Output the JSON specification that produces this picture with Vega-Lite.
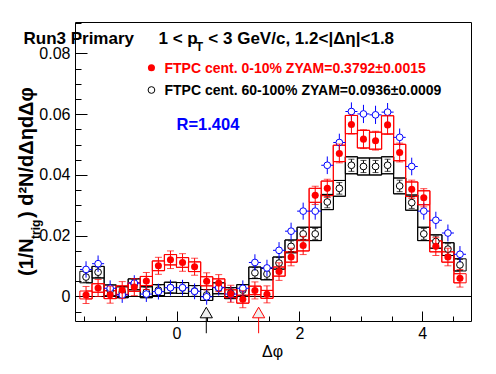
{
"$schema": "https://vega.github.io/schema/vega-lite/v6.json",
"width": 396, "height": 299,
"autosize": {"type": "none"},
"padding": {"left": 75, "top": 22, "right": 25, "bottom": 53},
"background": "white",
"config": {
  "view": {"stroke": "black", "strokeWidth": 1},
  "axis": {"domain": false, "grid": false, "labelFont": "Liberation Sans", "labelFontSize": 16, "labelColor": "black", "tickColor": "black", "tickWidth": 1, "titleFont": "Liberation Sans", "titleColor": "black"},
  "text": {"font": "Liberation Sans"}
},
"datasets": {"bins": [
{"p":-1.4726,"r":0.0005,"re":0.0028,"rl":-0.0008,"rh":0.0018,"k":0.0064,"ke":0.0017,"kl":0.0045,"kh":0.0083,"b":0.0089,"be":0.0027,"hw":0.0982},
{"p":-1.2763,"r":0.0028,"re":0.0028,"rl":0.0014,"rh":0.0042,"k":0.0080,"ke":0.0017,"kl":0.0061,"kh":0.0099,"b":0.0108,"be":0.0027,"hw":0.0982},
{"p":-1.0799,"r":0.0006,"re":0.0028,"rl":-0.0007,"rh":0.0019,"k":0.0020,"ke":0.0017,"kl":0.0002,"kh":0.0038,"b":0.0027,"be":0.0026,"hw":0.0982},
{"p":-0.8836,"r":0.0021,"re":0.0028,"rl":0.0007,"rh":0.0035,"k":0.0014,"ke":0.0017,"kl":-0.0004,"kh":0.0032,"b":0.0005,"be":0.0026,"hw":0.0982},
{"p":-0.6872,"r":0.0031,"re":0.0028,"rl":0.0017,"rh":0.0045,"k":0.0040,"ke":0.0017,"kl":0.0022,"kh":0.0058,"b":0.0044,"be":0.0026,"hw":0.0982},
{"p":-0.4909,"r":0.0051,"re":0.0028,"rl":0.0036,"rh":0.0066,"k":0.0014,"ke":0.0017,"kl":-0.0004,"kh":0.0032,"b":0.0008,"be":0.0026,"hw":0.0982},
{"p":-0.2945,"r":0.0101,"re":0.0028,"rl":0.0085,"rh":0.0117,"k":0.0021,"ke":0.0017,"kl":0.0003,"kh":0.0039,"b":0.0016,"be":0.0026,"hw":0.0982},
{"p":-0.0982,"r":0.0121,"re":0.0029,"rl":0.0104,"rh":0.0138,"k":0.0029,"ke":0.0017,"kl":0.0011,"kh":0.0047,"b":0.0029,"be":0.0026,"hw":0.0982},
{"p":0.0982,"r":0.0112,"re":0.0029,"rl":0.0096,"rh":0.0128,"k":0.0028,"ke":0.0017,"kl":0.0010,"kh":0.0046,"b":0.0029,"be":0.0026,"hw":0.0982},
{"p":0.2945,"r":0.0098,"re":0.0028,"rl":0.0082,"rh":0.0114,"k":0.0018,"ke":0.0017,"kl":0.0000,"kh":0.0036,"b":0.0017,"be":0.0026,"hw":0.0982},
{"p":0.4909,"r":0.0050,"re":0.0028,"rl":0.0035,"rh":0.0065,"k":0.0005,"ke":0.0017,"kl":-0.0013,"kh":0.0023,"b":-0.0001,"be":0.0026,"hw":0.0982},
{"p":0.6872,"r":0.0044,"re":0.0028,"rl":0.0030,"rh":0.0058,"k":0.0027,"ke":0.0017,"kl":0.0009,"kh":0.0045,"b":0.0029,"be":0.0026,"hw":0.0982},
{"p":0.8836,"r":0.0009,"re":0.0028,"rl":-0.0004,"rh":0.0022,"k":0.0011,"ke":0.0017,"kl":-0.0007,"kh":0.0029,"b":0.0008,"be":0.0026,"hw":0.0982},
{"p":1.0799,"r":-0.0009,"re":0.0028,"rl":-0.0022,"rh":0.0004,"k":0.0021,"ke":0.0017,"kl":0.0003,"kh":0.0039,"b":0.0027,"be":0.0026,"hw":0.0982},
{"p":1.2763,"r":0.0020,"re":0.0028,"rl":0.0006,"rh":0.0034,"k":0.0078,"ke":0.0017,"kl":0.0059,"kh":0.0097,"b":0.0112,"be":0.0027,"hw":0.0982},
{"p":1.4726,"r":0.0007,"re":0.0028,"rl":-0.0006,"rh":0.0020,"k":0.0074,"ke":0.0017,"kl":0.0055,"kh":0.0093,"b":0.0094,"be":0.0027,"hw":0.0982},
{"p":1.6690,"r":0.0082,"re":0.0029,"rl":0.0067,"rh":0.0097,"k":0.0110,"ke":0.0018,"kl":0.0090,"kh":0.0130,"b":0.0152,"be":0.0027,"hw":0.0982},
{"p":1.8653,"r":0.0130,"re":0.0029,"rl":0.0113,"rh":0.0147,"k":0.0165,"ke":0.0018,"kl":0.0144,"kh":0.0186,"b":0.0215,"be":0.0028,"hw":0.0982},
{"p":2.0617,"r":0.0168,"re":0.0030,"rl":0.0150,"rh":0.0186,"k":0.0206,"ke":0.0018,"kl":0.0184,"kh":0.0228,"b":0.0281,"be":0.0028,"hw":0.0982},
{"p":2.2580,"r":0.0333,"re":0.0030,"rl":0.0310,"rh":0.0356,"k":0.0206,"ke":0.0018,"kl":0.0184,"kh":0.0228,"b":0.0281,"be":0.0028,"hw":0.0982},
{"p":2.4544,"r":0.0356,"re":0.0030,"rl":0.0332,"rh":0.0380,"k":0.0311,"ke":0.0019,"kl":0.0286,"kh":0.0336,"b":0.0432,"be":0.0029,"hw":0.0982},
{"p":2.6507,"r":0.0471,"re":0.0031,"rl":0.0444,"rh":0.0498,"k":0.0356,"ke":0.0019,"kl":0.0330,"kh":0.0382,"b":0.0507,"be":0.0029,"hw":0.0982},
{"p":2.8471,"r":0.0566,"re":0.0031,"rl":0.0536,"rh":0.0596,"k":0.0432,"ke":0.0020,"kl":0.0404,"kh":0.0460,"b":0.0609,"be":0.0030,"hw":0.0982},
{"p":3.0434,"r":0.0518,"re":0.0031,"rl":0.0489,"rh":0.0547,"k":0.0428,"ke":0.0020,"kl":0.0400,"kh":0.0456,"b":0.0601,"be":0.0030,"hw":0.0982},
{"p":3.2398,"r":0.0513,"re":0.0031,"rl":0.0485,"rh":0.0541,"k":0.0428,"ke":0.0020,"kl":0.0400,"kh":0.0456,"b":0.0598,"be":0.0030,"hw":0.0982},
{"p":3.4361,"r":0.0565,"re":0.0031,"rl":0.0535,"rh":0.0595,"k":0.0432,"ke":0.0020,"kl":0.0404,"kh":0.0460,"b":0.0607,"be":0.0030,"hw":0.0982},
{"p":3.6325,"r":0.0474,"re":0.0031,"rl":0.0447,"rh":0.0501,"k":0.0364,"ke":0.0019,"kl":0.0338,"kh":0.0390,"b":0.0524,"be":0.0029,"hw":0.0982},
{"p":3.8288,"r":0.0353,"re":0.0030,"rl":0.0329,"rh":0.0377,"k":0.0309,"ke":0.0019,"kl":0.0284,"kh":0.0334,"b":0.0428,"be":0.0029,"hw":0.0982},
{"p":4.0252,"r":0.0325,"re":0.0030,"rl":0.0302,"rh":0.0348,"k":0.0206,"ke":0.0018,"kl":0.0184,"kh":0.0228,"b":0.0281,"be":0.0028,"hw":0.0982},
{"p":4.2215,"r":0.0165,"re":0.0030,"rl":0.0147,"rh":0.0183,"k":0.0181,"ke":0.0018,"kl":0.0159,"kh":0.0203,"b":0.0251,"be":0.0028,"hw":0.0982},
{"p":4.4179,"r":0.0130,"re":0.0029,"rl":0.0113,"rh":0.0147,"k":0.0156,"ke":0.0018,"kl":0.0135,"kh":0.0177,"b":0.0209,"be":0.0028,"hw":0.0982},
{"p":4.6142,"r":0.0060,"re":0.0029,"rl":0.0045,"rh":0.0075,"k":0.0104,"ke":0.0018,"kl":0.0084,"kh":0.0124,"b":0.0139,"be":0.0027,"hw":0.0982}
]},
"resolve": {"axis": {"x": "independent", "y": "independent"}},
"layer": [
 {"data": {"values": [{}]}, "mark": {"type": "rule", "color": "black", "strokeWidth": 1},
  "encoding": {"y": {"datum": 0, "type": "quantitative", "scale": {"domain": [-0.00807, 0.09037], "nice": false, "zero": false}, "axis": null}}},
 {"data": {"name": "bins"}, "mark": {"type": "bar", "width": 12.375, "fillOpacity": 0, "stroke": "black", "strokeWidth": 1},
  "encoding": {
   "x": {"field": "p", "type": "quantitative", "scale": {"domain": [-1.5708, 4.7124], "nice": false, "zero": false},
         "axis": {"orient": "bottom", "values": [0, 2, 4], "format": "d", "tickSize": -10, "labelPadding": 14.5, "title": "Δφ", "titleFontSize": 16, "titleFontWeight": "normal", "titleX": 197, "titleY": 35.5, "titleAlign": "center", "titleBaseline": "alphabetic"}},
   "y": {"field": "kl", "type": "quantitative", "scale": {"domain": [-0.00807, 0.09037], "nice": false, "zero": false},
         "axis": {"orient": "left", "values": [0, 0.02, 0.04, 0.06, 0.08], "format": "~g", "tickSize": -12, "labelPadding": 17, "title": null}},
   "y2": {"field": "kh"}}},
 {"data": {"name": "bins"}, "mark": {"type": "line", "interpolate": "step", "color": "black", "strokeWidth": 1},
  "encoding": {
   "x": {"field": "p", "type": "quantitative", "scale": {"domain": [-1.5708, 4.7124], "nice": false, "zero": false},
         "axis": {"orient": "bottom", "values": [-1.5, -1, -0.5, 0.5, 1, 1.5, 2.5, 3, 3.5, 4.5], "tickSize": -5, "labels": false, "title": null}},
   "y": {"field": "kh", "type": "quantitative", "scale": {"domain": [-0.00807, 0.09037], "nice": false, "zero": false},
         "axis": {"orient": "left", "values": [-0.005, 0.005, 0.01, 0.015, 0.025, 0.03, 0.035, 0.045, 0.05, 0.055, 0.065, 0.07, 0.075, 0.085, 0.09], "tickSize": -6, "labels": false, "title": null}}}},
 {"data": {"name": "bins"}, "mark": {"type": "line", "interpolate": "step", "color": "black", "strokeWidth": 1},
  "encoding": {"x": {"field": "p", "type": "quantitative", "scale": {"domain": [-1.5708, 4.7124], "nice": false, "zero": false}, "axis": null},
   "y": {"field": "kl", "type": "quantitative", "scale": {"domain": [-0.00807, 0.09037], "nice": false, "zero": false}, "axis": null}}},
 {"data": {"name": "bins"}, "mark": {"type": "bar", "width": 12.375, "fillOpacity": 0, "stroke": "#ff0000", "strokeWidth": 1},
  "encoding": {"x": {"field": "p", "type": "quantitative", "scale": {"domain": [-1.5708, 4.7124], "nice": false, "zero": false}, "axis": null},
   "y": {"field": "rl", "type": "quantitative", "scale": {"domain": [-0.00807, 0.09037], "nice": false, "zero": false}, "axis": null},
   "y2": {"field": "rh"}}},
 {"data": {"name": "bins"}, "mark": {"type": "line", "interpolate": "step", "color": "#ff0000", "strokeWidth": 1},
  "encoding": {"x": {"field": "p", "type": "quantitative", "scale": {"domain": [-1.5708, 4.7124], "nice": false, "zero": false}, "axis": null},
   "y": {"field": "rh", "type": "quantitative", "scale": {"domain": [-0.00807, 0.09037], "nice": false, "zero": false}, "axis": null}}},
 {"data": {"name": "bins"}, "mark": {"type": "line", "interpolate": "step", "color": "#ff0000", "strokeWidth": 1},
  "encoding": {"x": {"field": "p", "type": "quantitative", "scale": {"domain": [-1.5708, 4.7124], "nice": false, "zero": false}, "axis": null},
   "y": {"field": "rl", "type": "quantitative", "scale": {"domain": [-0.00807, 0.09037], "nice": false, "zero": false}, "axis": null}}},
 {"data": {"name": "bins"}, "mark": {"type": "errorbar", "color": "black", "ticks": {"size": 6}},
  "encoding": {"x": {"field": "p", "type": "quantitative", "scale": {"domain": [-1.5708, 4.7124], "nice": false, "zero": false}, "axis": null},
   "y": {"field": "k", "type": "quantitative", "scale": {"domain": [-0.00807, 0.09037], "nice": false, "zero": false}, "axis": null},
   "yError": {"field": "ke"}}},
 {"data": {"name": "bins"}, "mark": {"type": "point", "shape": "circle", "size": 45, "filled": true, "fill": "white", "stroke": "black", "strokeWidth": 1, "opacity": 1},
  "encoding": {"x": {"field": "p", "type": "quantitative", "scale": {"domain": [-1.5708, 4.7124], "nice": false, "zero": false}, "axis": null},
   "y": {"field": "k", "type": "quantitative", "scale": {"domain": [-0.00807, 0.09037], "nice": false, "zero": false}, "axis": null}}},
 {"data": {"name": "bins"}, "mark": {"type": "errorbar", "color": "#0000ff"},
  "encoding": {"x": {"field": "p", "type": "quantitative", "scale": {"domain": [-1.5708, 4.7124], "nice": false, "zero": false}, "axis": null},
   "y": {"field": "b", "type": "quantitative", "scale": {"domain": [-0.00807, 0.09037], "nice": false, "zero": false}, "axis": null},
   "yError": {"field": "be"}}},
 {"data": {"name": "bins"}, "mark": {"type": "errorbar", "color": "#0000ff"},
  "encoding": {"x": {"field": "p", "type": "quantitative", "scale": {"domain": [-1.5708, 4.7124], "nice": false, "zero": false}, "axis": null},
   "xError": {"field": "hw"},
   "y": {"field": "b", "type": "quantitative", "scale": {"domain": [-0.00807, 0.09037], "nice": false, "zero": false}, "axis": null}}},
 {"data": {"name": "bins"}, "mark": {"type": "point", "shape": "circle", "size": 45, "filled": true, "fill": "white", "stroke": "#0000ff", "strokeWidth": 1, "opacity": 1},
  "encoding": {"x": {"field": "p", "type": "quantitative", "scale": {"domain": [-1.5708, 4.7124], "nice": false, "zero": false}, "axis": null},
   "y": {"field": "b", "type": "quantitative", "scale": {"domain": [-0.00807, 0.09037], "nice": false, "zero": false}, "axis": null}}},
 {"data": {"name": "bins"}, "mark": {"type": "errorbar", "color": "#ff0000", "ticks": {"size": 7}},
  "encoding": {"x": {"field": "p", "type": "quantitative", "scale": {"domain": [-1.5708, 4.7124], "nice": false, "zero": false}, "axis": null},
   "y": {"field": "r", "type": "quantitative", "scale": {"domain": [-0.00807, 0.09037], "nice": false, "zero": false}, "axis": null},
   "yError": {"field": "re"}}},
 {"data": {"name": "bins"}, "mark": {"type": "point", "shape": "circle", "size": 50, "filled": true, "color": "#ff0000", "opacity": 1},
  "encoding": {"x": {"field": "p", "type": "quantitative", "scale": {"domain": [-1.5708, 4.7124], "nice": false, "zero": false}, "axis": null},
   "y": {"field": "r", "type": "quantitative", "scale": {"domain": [-0.00807, 0.09037], "nice": false, "zero": false}, "axis": null}}},
 {"data": {"values": [{"phi": 0.485}]}, "mark": {"type": "rule", "color": "black", "strokeWidth": 1},
  "encoding": {"x": {"field": "phi", "type": "quantitative", "axis": null},
   "y": {"datum": -0.0121, "type": "quantitative", "axis": null}, "y2": {"datum": -0.0053}}},
 {"data": {"values": [{"phi": 0.485}]}, "mark": {"type": "point", "shape": "triangle-up", "size": 150, "filled": true, "fill": "#eeeeee", "stroke": "black", "strokeWidth": 1, "opacity": 1},
  "encoding": {"x": {"field": "phi", "type": "quantitative", "axis": null},
   "y": {"datum": -0.00527, "type": "quantitative", "axis": null}}},
 {"data": {"values": [{"phi": 1.337}]}, "mark": {"type": "rule", "color": "#ff0000", "strokeWidth": 1},
  "encoding": {"x": {"field": "phi", "type": "quantitative", "axis": null},
   "y": {"datum": -0.0121, "type": "quantitative", "axis": null}, "y2": {"datum": -0.0053}}},
 {"data": {"values": [{"phi": 1.337}]}, "mark": {"type": "point", "shape": "triangle-up", "size": 150, "filled": true, "fill": "#eeeeee", "stroke": "#ff0000", "strokeWidth": 1, "opacity": 1},
  "encoding": {"x": {"field": "phi", "type": "quantitative", "axis": null},
   "y": {"datum": -0.00527, "type": "quantitative", "axis": null}}},
 {"data": {"values": [{}]}, "mark": {"type": "point", "shape": "circle", "size": 50, "filled": true, "color": "#ff0000", "opacity": 1},
  "encoding": {"x": {"datum": -0.4079, "type": "quantitative", "axis": null}, "y": {"datum": 0.07533, "type": "quantitative", "axis": null}}},
 {"data": {"values": [{}]}, "mark": {"type": "point", "shape": "circle", "size": 45, "filled": true, "fill": "white", "stroke": "black", "strokeWidth": 1, "opacity": 1},
  "encoding": {"x": {"datum": -0.4079, "type": "quantitative", "axis": null}, "y": {"datum": 0.06798, "type": "quantitative", "axis": null}}},
 {"data": {"values": [{}]}, "mark": {"type": "text", "text": "FTPC cent. 0-10% ZYAM=0.3792±0.0015", "font": "Liberation Sans", "fontWeight": "bold", "fontSize": 14, "align": "left", "baseline": "alphabetic", "color": "#ff0000"},
  "encoding": {"x": {"datum": -0.1953, "type": "quantitative", "axis": null}, "y": {"datum": 0.07342, "type": "quantitative", "axis": null}}},
 {"data": {"values": [{}]}, "mark": {"type": "text", "text": "FTPC cent. 60-100% ZYAM=0.0936±0.0009", "font": "Liberation Sans", "fontWeight": "bold", "fontSize": 14, "align": "left", "baseline": "alphabetic", "color": "black"},
  "encoding": {"x": {"datum": -0.1953, "type": "quantitative", "axis": null}, "y": {"datum": 0.06634, "type": "quantitative", "axis": null}}},
 {"data": {"values": [{}]}, "mark": {"type": "text", "text": "R=1.404", "font": "Liberation Sans", "fontWeight": "bold", "fontSize": 16.5, "align": "left", "baseline": "alphabetic", "color": "#0000ff"},
  "encoding": {"x": {"datum": 0.0, "type": "quantitative", "axis": null}, "y": {"datum": 0.05481, "type": "quantitative", "axis": null}}},
 {"data": {"values": [{}]}, "mark": {"type": "text", "text": "Run3 Primary", "font": "Liberation Sans", "fontWeight": "bold", "fontSize": 17, "align": "left", "baseline": "alphabetic", "color": "black"},
  "encoding": {"x": {"datum": -2.491, "type": "quantitative", "axis": null}, "y": {"datum": 0.08313, "type": "quantitative", "axis": null}}},
 {"data": {"values": [{}]}, "mark": {"type": "text", "text": "1 < p", "font": "Liberation Sans", "fontWeight": "bold", "fontSize": 17, "align": "left", "baseline": "alphabetic", "color": "black"},
  "encoding": {"x": {"datum": -0.2936, "type": "quantitative", "axis": null}, "y": {"datum": 0.08329, "type": "quantitative", "axis": null}}},
 {"data": {"values": [{}]}, "mark": {"type": "text", "text": "T", "font": "Liberation Sans", "fontWeight": "bold", "fontSize": 12, "align": "left", "baseline": "alphabetic", "color": "black"},
  "encoding": {"x": {"datum": 0.314, "type": "quantitative", "axis": null}, "y": {"datum": 0.08066, "type": "quantitative", "axis": null}}},
 {"data": {"values": [{}]}, "mark": {"type": "text", "text": "< 3 GeV/c, 1.2<|Δη|<1.8", "font": "Liberation Sans", "fontWeight": "bold", "fontSize": 17, "align": "left", "baseline": "alphabetic", "color": "black"},
  "encoding": {"x": {"datum": 0.5187, "type": "quantitative", "axis": null}, "y": {"datum": 0.08329, "type": "quantitative", "axis": null}}},
 {"data": {"values": [{}]}, "mark": {"type": "text", "text": "(1/N", "font": "Liberation Sans", "fontWeight": "bold", "fontSize": 20, "angle": 270, "align": "left", "baseline": "alphabetic", "color": "black"},
  "encoding": {"x": {"datum": -2.3323, "type": "quantitative", "axis": null}, "y": {"datum": 0.00675, "type": "quantitative", "axis": null}}},
 {"data": {"values": [{}]}, "mark": {"type": "text", "text": "trig", "font": "Liberation Sans", "fontWeight": "bold", "fontSize": 12, "angle": 270, "align": "left", "baseline": "alphabetic", "color": "black"},
  "encoding": {"x": {"datum": -2.2213, "type": "quantitative", "axis": null}, "y": {"datum": 0.01893, "type": "quantitative", "axis": null}}},
 {"data": {"values": [{}]}, "mark": {"type": "text", "text": ") d²N/dΔηdΔφ", "font": "Liberation Sans", "fontWeight": "bold", "fontSize": 20, "angle": 270, "align": "left", "baseline": "alphabetic", "color": "black"},
  "encoding": {"x": {"datum": -2.3323, "type": "quantitative", "axis": null}, "y": {"datum": 0.02584, "type": "quantitative", "axis": null}}}
]
}
